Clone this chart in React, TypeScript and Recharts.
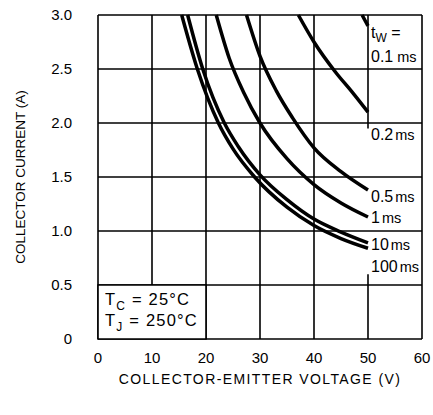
import React from "react";
import { CartesianGrid, Line, LineChart, ReferenceArea, ReferenceDot, ReferenceLine, XAxis, YAxis } from "recharts";

const voltageTicks = [0, 10, 20, 30, 40, 50, 60];
const currentTicks = [0, 0.5, 1.0, 1.5, 2.0, 2.5, 3.0];

// pulse width curves (V, A)
const v100ms = [15.5, 18.4, 22.3, 25, 29, 35, 40, 45, 50];
const i100ms = [3.0, 2.5, 2.0, 1.76, 1.5, 1.22, 1.05, 0.93, 0.84];
const v10ms = [16.6, 19.4, 23.4, 26, 30, 35, 40, 45, 50];
const i10ms = [3.0, 2.5, 2.0, 1.78, 1.52, 1.29, 1.11, 0.99, 0.89];
const v1ms = [21.9, 24.3, 27, 30, 35, 40, 45, 50];
const i1ms = [3.0, 2.6, 2.28, 2.0, 1.67, 1.43, 1.26, 1.13];
const v05ms = [27.5, 30, 33, 36, 40, 45, 50];
const i05ms = [3.0, 2.62, 2.3, 2.05, 1.77, 1.55, 1.38];
const v02ms = [37.1, 40, 44, 47, 50];
const i02ms = [3.0, 2.75, 2.47, 2.29, 2.1];
const v01ms = [48.9, 50];
const i01ms = [3.0, 2.9];

const pulseLabels = ["0.1", "0.2", "0.5", "1", "10", "100"];
const pulseLabelAt = [2.565, 1.84, 1.27, 1.07, 0.82, 0.62];

const zip = (v: number[], i: number[]) => v.map((x, k) => ({ v: x, i: i[k] }));

const curves = [
  zip(v100ms, i100ms),
  zip(v10ms, i10ms),
  zip(v1ms, i1ms),
  zip(v05ms, i05ms),
  zip(v02ms, i02ms),
  zip(v01ms, i01ms),
];

const FONT = "'Liberation Sans', Arial, sans-serif";

const YTitle = (props: any) => {
  const vb = props.viewBox;
  const cx = 20;
  const cy = vb.y + vb.height / 2;
  return (
    <text x={cx} y={cy} transform={`rotate(-90 ${cx} ${cy})`} textAnchor="middle" dominantBaseline="central"
      fontSize={13.5} fill="#000" fontFamily={FONT}>
      COLLECTOR CURRENT (A)
    </text>
  );
};

const XTitle = (props: any) => {
  const vb = props.viewBox;
  return (
    <text x={vb.x + vb.width / 2} y={vb.y + 45} textAnchor="middle" fontSize={14} letterSpacing={1.4}
      fill="#000" fontFamily={FONT}>
      COLLECTOR-EMITTER VOLTAGE (V)
    </text>
  );
};

const TempBox = (props: any) => {
  const vb = props.viewBox;
  const x = vb.x + 7;
  return (
    <g fontFamily={FONT} fontSize={16.5} fill="#000" letterSpacing={1.2}>
      <text x={x} y={vb.y + 20}>
        T<tspan dy={5} fontSize={12}>C</tspan>
        <tspan dy={-5}> = 25°C</tspan>
      </text>
      <text x={x} y={vb.y + 41}>
        T<tspan dy={5} fontSize={12}>J</tspan>
        <tspan dy={-5}> = 250°C</tspan>
      </text>
    </g>
  );
};

const pulseLabel = (idx: number) => (props: any) => {
  const vb = props.viewBox;
  const x = vb.x + 3;
  const y = vb.y;
  return (
    <g fontFamily={FONT} fill="#000">
      {idx === 0 && (
        <text x={x} y={y - 24} fontSize={16}>
          t<tspan dy={4} fontSize={12}>W</tspan>
          <tspan dy={-4}> =</tspan>
        </text>
      )}
      <text x={x} y={y} fontSize={16}>
        {pulseLabels[idx]}
        <tspan dx={idx === 0 ? 4 : 2} fontSize={14.5}>ms</tspan>
      </text>
    </g>
  );
};

export default function App() {
  return (
    <div style={{ position: "absolute", left: 0, top: 0, width: 433, height: 415, background: "#fff" }}>
      <LineChart width={433} height={415} margin={{ top: 15, right: 11, bottom: 0, left: 0 }}>
        <CartesianGrid stroke="#000" strokeWidth={1.6} horizontalValues={currentTicks}
          verticalValues={[0, 10, 20, 30, 40, 60]} />
        <XAxis type="number" dataKey="v" domain={[0, 60]} ticks={voltageTicks} height={76}
          axisLine={false} tickLine={false} tickSize={0} tickMargin={13}
          tick={{ fill: "#000", fontSize: 15, fontFamily: FONT }} label={<XTitle />} />
        <YAxis type="number" dataKey="i" domain={[0, 3]} ticks={currentTicks} width={98}
          axisLine={false} tickLine={false} tickSize={0} tickMargin={26}
          tickFormatter={(t: number) => (t === 0 ? "0" : t.toFixed(1))}
          tick={{ fill: "#000", fontSize: 15, fontFamily: FONT }} label={<YTitle />} />
        <ReferenceLine segment={[{ x: 50, y: 0 }, { x: 50, y: 0.6 }]} stroke="#000" strokeWidth={1.6} />
        <ReferenceLine segment={[{ x: 50, y: 1.95 }, { x: 50, y: 3 }]} stroke="#000" strokeWidth={1.6} />
        <ReferenceArea x1={0} x2={20} y1={0} y2={0.5} fill="#fff" fillOpacity={1} stroke="#000" strokeWidth={1.6}
          label={<TempBox />} />
        {curves.map((d, k) => (
          <Line key={k} data={d} dataKey="i" type="monotone" stroke="#000" strokeWidth={3.5}
            dot={false} activeDot={false} isAnimationActive={false} />
        ))}
        {pulseLabelAt.map((y, k) => (
          <ReferenceDot key={k} x={50} y={y} r={0.01} fill="none" stroke="none" label={{ content: pulseLabel(k) }} />
        ))}
      </LineChart>
    </div>
  );
}
